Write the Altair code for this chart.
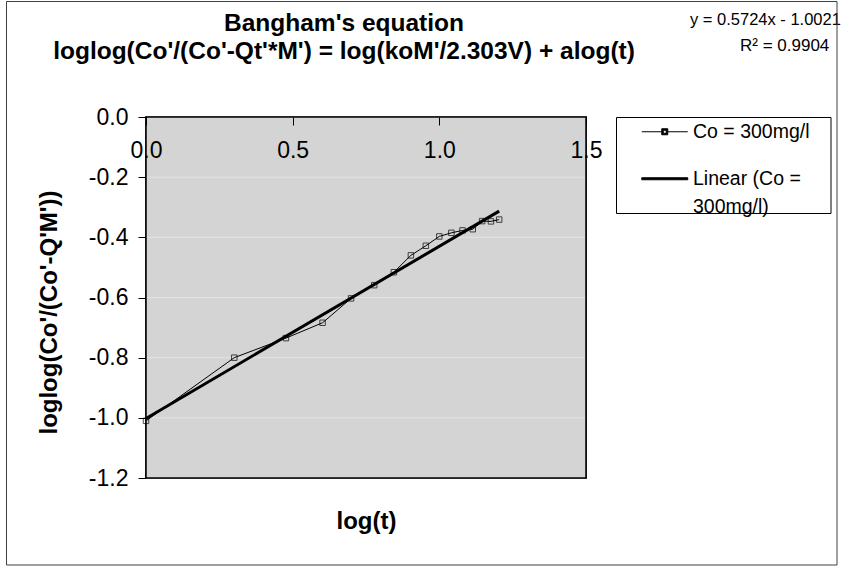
import altair as alt
import pandas as pd

# ---------------- data ----------------
log_t = [0.000, 0.301, 0.477, 0.602, 0.699, 0.778, 0.845, 0.903, 0.954,
         1.000, 1.041, 1.079, 1.114, 1.146, 1.176, 1.204]
loglog_c = [-1.010, -0.800, -0.735, -0.684, -0.603, -0.559, -0.516, -0.460,
            -0.428, -0.397, -0.385, -0.377, -0.373, -0.346, -0.347, -0.341]
trend_x = [0.0, 1.204]
trend_y = [-1.002, -0.313]
series_names = ["Co = 300mg/l", "Linear (Co = 300mg/l)"]
title_lines = ["Bangham's equation",
               "loglog(Co'/(Co'-Qt'*M') = log(koM'/2.303V) + alog(t)"]
eq_lines = ["y = 0.5724x - 1.0021", "R² = 0.9904"]
x_title = "log(t)"
y_title = "loglog(Co'/(Co'-Q'M'))"
x_ticks = [0.0, 0.5, 1.0, 1.5]
y_ticks = [0.0, -0.2, -0.4, -0.6, -0.8, -1.0, -1.2]

FONT = "Liberation Sans"
W, H = 440, 361
PLOT_BG = "#d4d4d4"
GRID = "#e4e4e4"

obs = pd.DataFrame({"x": log_t, "y": loglog_c, "series": series_names[0]})
fit = pd.DataFrame({"x": trend_x, "y": trend_y, "series": series_names[1]})
leg = pd.DataFrame({"series": series_names})
grid_df = pd.DataFrame({"v": y_ticks})
one = pd.DataFrame({"k": [0]})

xs = alt.Scale(domain=[x_ticks[0], x_ticks[-1]], nice=False, zero=False)
ys = alt.Scale(domain=[y_ticks[-1], y_ticks[0]], nice=False, zero=False)
minus_fix = "replace(datum.label, '\u2212', '-')"

x_axis_top = alt.Axis(orient="bottom", offset=-H, values=x_ticks, format=".1f",
                      tickSize=8, tickColor="black", tickWidth=1,
                      labelPadding=14, labelFontSize=23, labelFont=FONT,
                      labelColor="black", labelFlush=False, labelOverlap=False,
                      domain=False, grid=False, title=None, zindex=2)
x_axis_title = alt.Axis(orient="bottom", labels=False, ticks=False, domain=False,
                        grid=False, title=x_title, titleFont=FONT, titleFontSize=24,
                        titleFontWeight="bold", titleColor="black",
                        titleY=43, titleBaseline="middle")
y_axis = alt.Axis(values=y_ticks, format=".1f", labelExpr=minus_fix,
                  tickSize=8, tickColor="black", tickWidth=1,
                  labelPadding=10, labelFontSize=23, labelFont=FONT,
                  labelColor="black", labelFlush=False, labelOverlap=False,
                  grid=False, domain=False,
                  title=y_title, titleFont=FONT, titleFontSize=24,
                  titleFontWeight="bold", titleColor="black",
                  titleX=-96.5, titleY=195, titleAlign="center",
                  titleBaseline="middle", titleAngle=270)

# plot-area background, gridlines and border, drawn through the scales
def plot_area(mark):
    return alt.Chart(one).mark_rect(**mark).encode(
        x=alt.X(datum=x_ticks[0], type="quantitative", scale=xs, axis=None),
        x2=alt.X2(datum=x_ticks[-1]),
        y=alt.Y(datum=y_ticks[0], type="quantitative", scale=ys, axis=y_axis),
        y2=alt.Y2(datum=y_ticks[-1]))

plot_bg = plot_area({"fill": PLOT_BG})
plot_border = plot_area({"filled": False, "color": "black", "strokeWidth": 1.5})
grid = alt.Chart(grid_df).mark_rule(color=GRID, strokeWidth=1).encode(
    y=alt.Y("v:Q", scale=ys, axis=y_axis))

frame = alt.Chart(one).mark_rect(filled=False, color="#404040", strokeWidth=1).encode(
    x=alt.value(-139.5), x2=alt.value(691), y=alt.value(-115.5), y2=alt.value(448))
legend_box = alt.Chart(one).mark_rect(fill="white", stroke="black", strokeWidth=1).encode(
    x=alt.value(470.5), x2=alt.value(685), y=alt.value(0.5), y2=alt.value(96.5))

line = alt.Chart(obs).mark_line(color="black", strokeWidth=1).encode(
    x=alt.X("x:Q", scale=xs, axis=x_axis_top),
    y=alt.Y("y:Q", scale=ys, axis=y_axis))
trend = alt.Chart(fit).mark_line(color="black", strokeWidth=3).encode(
    x=alt.X("x:Q", scale=xs, axis=x_axis_title),
    y=alt.Y("y:Q", scale=ys, axis=y_axis))
pts = alt.Chart(obs).mark_point(shape="square", filled=False, size=30,
                                color="black", strokeWidth=1).encode(
    x=alt.X("x:Q", scale=xs, axis=None),
    y=alt.Y("y:Q", scale=ys, axis=y_axis))

marker_path = "M0,0H20M26,0H46M20,-3H26V3H20ZM21.5,-1.5V1.5H24.5V-1.5Z"
trend_path = "M0,-1H46V1H0Z"
first, rest = series_names[1].rsplit(" ", 1)
label_expr = f"datum.label == '{series_names[1]}' ? ['{first}', '{rest}'] : datum.label"

legend_layer = alt.Chart(leg).mark_point(filled=True, fill="black", stroke="black",
                                         strokeWidth=1, opacity=0).encode(
    shape=alt.Shape("series:N",
                    scale=alt.Scale(domain=series_names, range=[marker_path, trend_path]),
                    legend=alt.Legend(orient="none", legendX=486, legendY=5, title=None,
                                      padding=0, labelFont=FONT, labelFontSize=19.5,
                                      labelColor="black", labelOffset=41.5, labelLimit=400,
                                      labelExpr=label_expr, labelBaseline="middle",
                                      symbolSize=4, symbolOpacity=1,
                                      symbolStrokeWidth=1, rowPadding=26)))

eq1 = alt.Chart(pd.DataFrame({"t": [eq_lines[0]]})).mark_text(
    align="left", baseline="middle", font=FONT, fontSize=16.5, color="black").encode(
    text="t:N", x=alt.value(544), y=alt.value(-97))
eq2 = alt.Chart(pd.DataFrame({"t": [eq_lines[1]]})).mark_text(
    align="left", baseline="middle", font=FONT, fontSize=17, color="black").encode(
    text="t:N", x=alt.value(594), y=alt.value(-71))

chart = alt.layer(plot_bg, grid, legend_box, line, trend, pts, plot_border,
                  legend_layer, eq1, eq2, frame).resolve_axis(
    x="independent"
).properties(
    width=W, height=H,
    title=alt.TitleParams(text=title_lines, font=FONT, fontSize=24.5, fontWeight="bold",
                          color="black", anchor="middle", dx=-22, offset=-63, lineHeight=28),
    autosize=alt.AutoSizeParams(type="none"),
    padding={"left": 146, "top": 117, "right": 258, "bottom": 89},
    background="white",
).configure_view(
    fill=PLOT_BG, stroke="black", strokeWidth=1.5
)
chart.config.style = {"guide-label": {"lineHeight": 28.5}}

chart.save("out.html", embed_options={"renderer": "svg", "actions": False})
